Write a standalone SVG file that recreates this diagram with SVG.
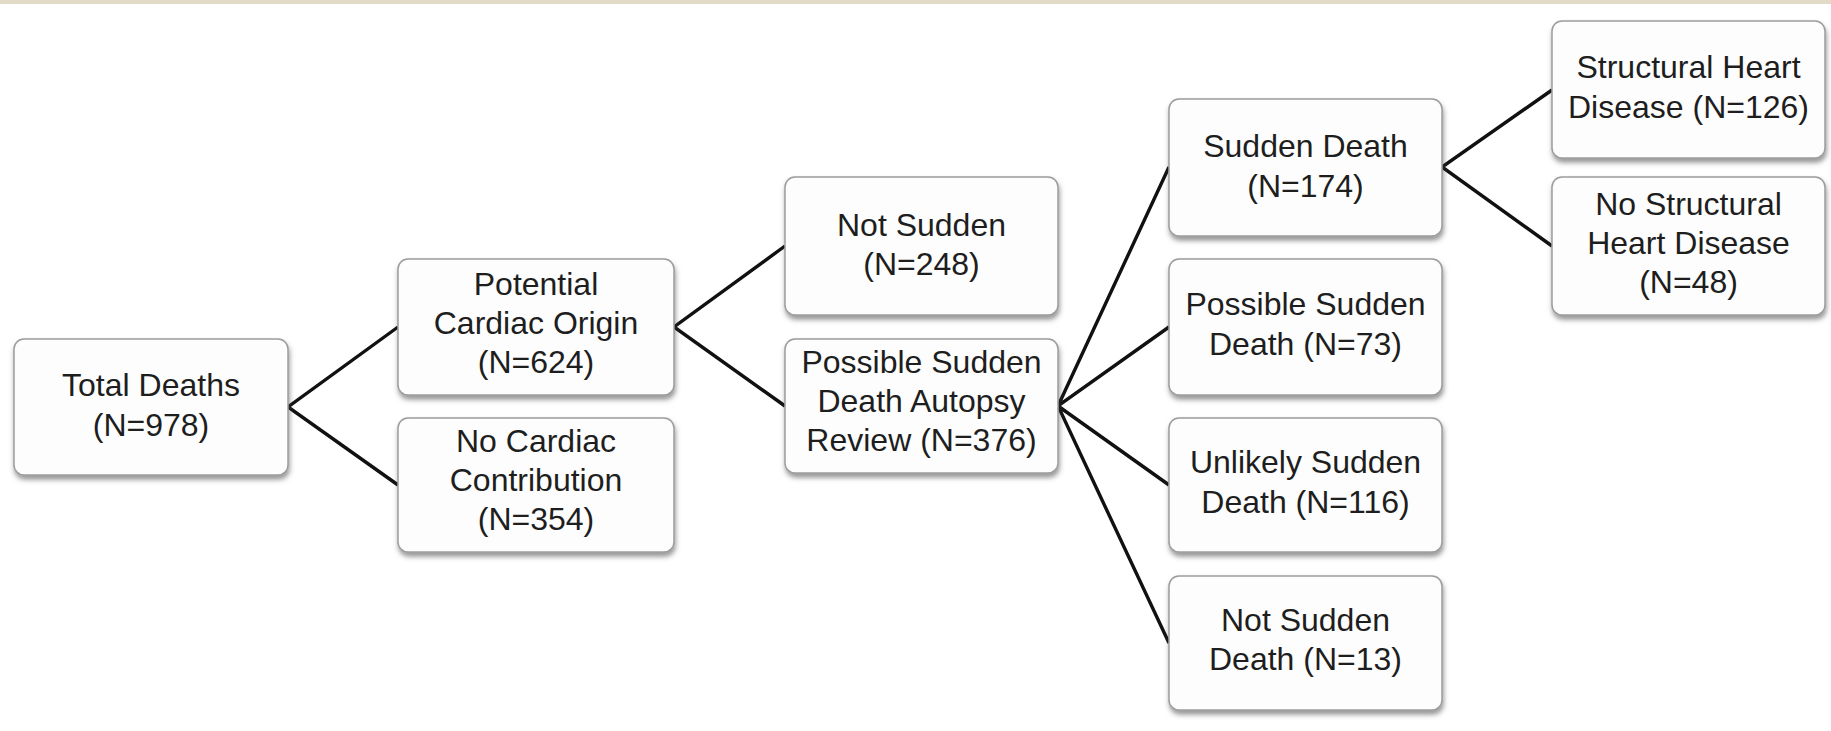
<svg xmlns="http://www.w3.org/2000/svg" width="1831" height="731" viewBox="0 0 1831 731">
<defs>
<filter id="sh" x="-10%" y="-10%" width="120%" height="130%">
<feDropShadow dx="1" dy="4" stdDeviation="2.5" flood-color="#444" flood-opacity="0.55"/>
</filter>
<style>
.box{fill:#fdfdfd;stroke:#9c9c9c;stroke-width:1.5;filter:url(#sh)}
.t{font-family:"Liberation Sans",Arial,sans-serif;font-size:32px;fill:#1e1e1e;text-anchor:middle}
.c{stroke:#111;stroke-width:3.4;fill:none;stroke-linejoin:miter}
</style>
</defs>
<rect width="1831" height="731" fill="#ffffff"/>
<rect x="0" y="0" width="1831" height="4" fill="#e4dac8"/>
<g id="connectors">
<polyline class="c" points="398,327 288,407 398,485"/>
<polyline class="c" points="785,246 674,327 785,406"/>
<polyline class="c" points="1169,167 1058,406 1169,327"/>
<polyline class="c" points="1169,485 1058,406 1169,643"/>
<polyline class="c" points="1552,90 1442,167 1552,246"/>
</g>
<g id="total">
<rect class="box" x="14" y="339" width="274" height="136" rx="10"/>
<text class="t" x="151" y="396">Total Deaths</text>
<text class="t" x="151" y="436">(N=978)</text>
</g>
<g id="potential">
<rect class="box" x="398" y="259" width="276" height="136" rx="10"/>
<text class="t" x="536" y="295">Potential</text>
<text class="t" x="536" y="334">Cardiac Origin</text>
<text class="t" x="536" y="373">(N=624)</text>
</g>
<g id="nocardiac">
<rect class="box" x="398" y="418" width="276" height="134" rx="10"/>
<text class="t" x="536" y="452">No Cardiac</text>
<text class="t" x="536" y="491">Contribution</text>
<text class="t" x="536" y="530">(N=354)</text>
</g>
<g id="notsudden">
<rect class="box" x="785" y="177" width="273" height="138" rx="10"/>
<text class="t" x="921.5" y="236">Not Sudden</text>
<text class="t" x="921.5" y="275">(N=248)</text>
</g>
<g id="autopsy">
<rect class="box" x="785" y="339" width="273" height="134" rx="10"/>
<text class="t" x="921.5" y="373">Possible Sudden</text>
<text class="t" x="921.5" y="412">Death Autopsy</text>
<text class="t" x="921.5" y="451">Review (N=376)</text>
</g>
<g id="suddendeath">
<rect class="box" x="1169" y="99" width="273" height="137" rx="10"/>
<text class="t" x="1305.5" y="157">Sudden Death</text>
<text class="t" x="1305.5" y="197">(N=174)</text>
</g>
<g id="possiblesudden">
<rect class="box" x="1169" y="259" width="273" height="136" rx="10"/>
<text class="t" x="1305.5" y="315">Possible Sudden</text>
<text class="t" x="1305.5" y="355">Death (N=73)</text>
</g>
<g id="unlikely">
<rect class="box" x="1169" y="418" width="273" height="134" rx="10"/>
<text class="t" x="1305.5" y="473">Unlikely Sudden</text>
<text class="t" x="1305.5" y="513">Death (N=116)</text>
</g>
<g id="notsuddendeath">
<rect class="box" x="1169" y="576" width="273" height="134" rx="10"/>
<text class="t" x="1305.5" y="631">Not Sudden</text>
<text class="t" x="1305.5" y="670">Death (N=13)</text>
</g>
<g id="structural">
<rect class="box" x="1552" y="21" width="273" height="137" rx="10"/>
<text class="t" x="1688.5" y="78">Structural Heart</text>
<text class="t" x="1688.5" y="118">Disease (N=126)</text>
</g>
<g id="nostructural">
<rect class="box" x="1552" y="177" width="273" height="138" rx="10"/>
<text class="t" x="1688.5" y="215">No Structural</text>
<text class="t" x="1688.5" y="254">Heart Disease</text>
<text class="t" x="1688.5" y="293">(N=48)</text>
</g>
</svg>
